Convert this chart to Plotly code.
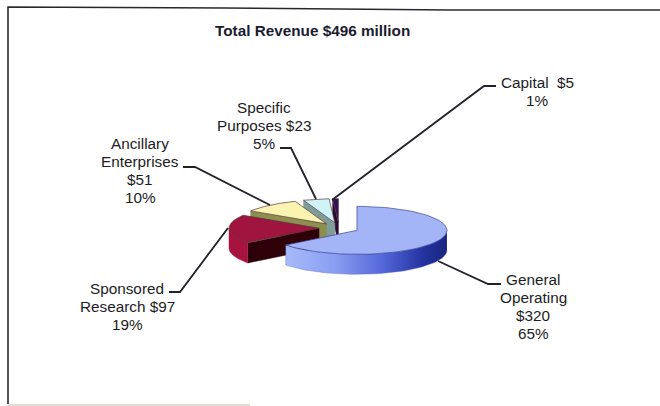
import numpy as np
import plotly.graph_objects as go

# DATA
categories = ["General Operating", "Sponsored Research", "Ancillary Enterprises", "Specific Purposes", "Capital"]
values = [320, 97, 51, 23, 5]
label_lines = [
    ["General", "Operating", "$320", "65%"],
    ["Sponsored", "Research $97", "19%"],
    ["Ancillary", "Enterprises", "$51", "10%"],
    ["Specific", "Purposes $23", "5%"],
    ["Capital  $5", "1%"],
]
label_x = [533, 127, 140, 264, 537]
label_y = [279, 288, 143, 107, 82]
leader_x = [[438, 488, 501], [228, 180, 169], [270, 195, 183], [316, 291, 280], [332, 484, 496]]
leader_y = [[261, 284, 284], [228, 292, 292], [205, 167, 167], [199, 148, 148], [200, 86, 86]]
top_colors = ["#a3b5f7", "#a01440", "#fbf3b0", "#cff3f7", "#35105a"]
cut_colors = ["#5566cc", "#2e0008", "#8c8f50", "#7f9c9a", "#2a0a30"]
rim_colors = ["#5566cc", "#a8123f", "#8c8f50", "#7f9c9a", "#2a0a30"]

# PIE GEOMETRY (pixels)
cx, cy = 339, 228
rx, ry = 90, 24
depth = 20
explode = 20
font_family = "Liberation Sans, Arial, sans-serif"

angles = np.cumsum([0] + values) / sum(values) * 360


def rim(a, ax, ay):
    rad = np.radians(a)
    return ax + rx * np.sin(rad), ay - ry * np.cos(rad)


fig = go.Figure()

# back slices first so the front ones overlap them
for i in reversed(range(len(values))):
    start, end = angles[i], angles[i + 1]
    mid = np.radians((start + end) / 2)
    ax = cx + explode * np.sin(mid)
    ay = cy - explode * ry / rx * np.cos(mid)
    outline = dict(color="#3a4490" if i == 0 else "#55333a", width=0.7)

    # cut face at the start of the slice, only faces us for the left hand slices
    if start > 180:
        ex, ey = rim(start, ax, ay)
        fig.add_trace(go.Scatter(x=[ax, ex, ex, ax, ax], y=[ay, ey, ey + depth, ay + depth, ay],
                                 mode="lines", fill="toself", fillcolor=cut_colors[i],
                                 line=dict(color=cut_colors[i], width=0.5), hoverinfo="skip"))

    # outer wall, front half of the ellipse only
    lo, hi = max(start, 90), min(end, 270)
    if lo < hi:
        arc = np.linspace(lo, hi, 60)
        ox, oy = rim(arc, ax, ay)
        wall_x = np.concatenate([ox, ox[::-1]])
        wall_y = np.concatenate([oy, oy[::-1] + depth])
        wall = dict(x=wall_x, y=wall_y, mode="lines", fill="toself", line=dict(color="#5a68c0", width=0.4), hoverinfo="skip")
        if i == 0:
            wall["fillgradient"] = dict(type="horizontal", colorscale=[
                [0, "#a8bafa"], [0.3, "#8a9ef2"], [0.6, "#5468da"], [0.85, "#2433a0"], [1, "#1a2680"]])
        else:
            wall["fillcolor"] = rim_colors[i]
            wall["line"] = dict(color=rim_colors[i], width=0.5)
        fig.add_trace(go.Scatter(**wall))

    # top face
    arc = np.linspace(start, end, 80)
    tx, ty = rim(arc, ax, ay)
    fig.add_trace(go.Scatter(x=np.concatenate([[ax], tx, [ax]]), y=np.concatenate([[ay], ty, [ay]]),
                             mode="lines", fill="toself", fillcolor=top_colors[i], line=outline,
                             hoverinfo="skip", name=categories[i]))

# leader lines
for xs, ys in zip(leader_x, leader_y):
    fig.add_trace(go.Scatter(x=xs, y=ys, mode="lines", line=dict(color="#22222a", width=1.8), hoverinfo="skip"))

# labels, one annotation per line so the spacing matches
line_gaps = [18, 18, 18.3, 18, 18]
for i, lines in enumerate(label_lines):
    for n, txt in enumerate(lines):
        fig.add_annotation(x=label_x[i], y=label_y[i] + n * line_gaps[i], text=txt, showarrow=False,
                           xanchor="center", yanchor="middle",
                           font=dict(family=font_family, size=15.3, color="#1c1c24"))

fig.add_annotation(x=312, y=30, text="<b>Total Revenue $496 million</b>", showarrow=False,
                   xanchor="center", yanchor="middle",
                   font=dict(family=font_family, size=15.3, color="#1c1c30"))

# scanned frame
fig.add_shape(type="path", path="M 660 10 L 450 10 L 225 8 L 8 7 L 8 404",
              line=dict(color="#2b2730", width=1.6))
fig.add_shape(type="line", x0=8, y0=405, x1=250, y1=405, line=dict(color="#d8cfc0", width=1.5))

fig.update_xaxes(range=[0, 660], visible=False, fixedrange=True)
fig.update_yaxes(range=[406, 0], visible=False, fixedrange=True)
fig.update_layout(width=660, height=406, margin=dict(l=0, r=0, t=0, b=0), showlegend=False,
                  paper_bgcolor="white", plot_bgcolor="white")

# the page has a default body margin that would push the chart 8px in
fig.write_html("out.html", config={"displayModeBar": False},
               post_script="document.body.style.margin='0';document.body.style.overflow='hidden';")
